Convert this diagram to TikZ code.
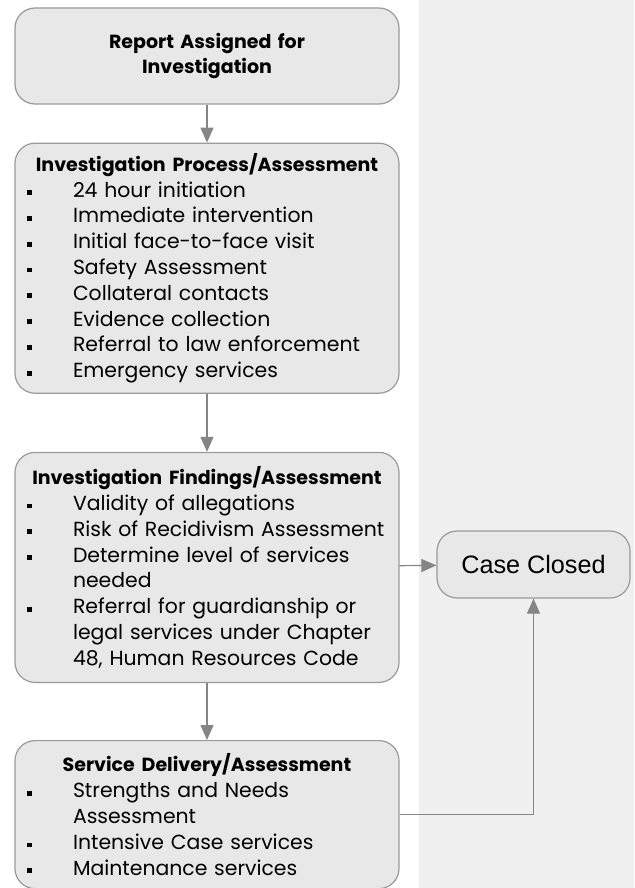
\documentclass[tikz,border=0pt]{standalone}
\usepackage{fontspec}
\setmainfont{Poppins}
\newfontfamily\casefont{Liberation Sans}
\usetikzlibrary{arrows.meta, positioning}
\definecolor{boxfill}{HTML}{E8E8E8}
\definecolor{panelgray}{HTML}{F0F0F0}
\definecolor{edgegray}{HTML}{9A9A9A}
\definecolor{linegray}{HTML}{858585}
\tikzset{
  stepbox/.style={rectangle, draw=edgegray, fill=boxfill, rounded corners=10pt, line width=0.6pt, text width=180pt, inner xsep=6pt, inner ysep=3pt, align=left, font=\fontsize{10.2}{12.9}\selectfont},
  endbox/.style={rectangle, draw=edgegray, fill=boxfill, rounded corners=10pt, line width=0.6pt, minimum width=96.5pt, minimum height=33.5pt, font=\casefont\fontsize{12.6}{14}\selectfont},
  arrow/.style={-{Triangle[length=7.5pt,width=6.5pt]}, draw=linegray, line width=0.6pt},
}
\newcommand{\bul}{\makebox[23pt][l]{\raisebox{1pt}{\rule{2.4pt}{2.4pt}}}}
\newcommand{\itm}[1]{\noindent\hangindent=23pt\hangafter=1 \bul #1\par}
\newcommand{\ttl}[1]{\noindent\makebox[\linewidth][c]{\bfseries\fontsize{9.5}{12.9}\selectfont #1}\par}

\begin{document}
\begin{tikzpicture}[x=0.5pt, y=-0.5pt]
    \useasboundingbox (0,0) rectangle (634,888);
    \fill[panelgray] (419,0) rectangle (634,888);

    \node[stepbox, minimum height=48pt, align=center, font=\bfseries\fontsize{9.5}{12.9}\selectfont] (report) at (207,56) {Report Assigned for\\Investigation};
    \node[stepbox, minimum height=125pt, below=19pt of report] (process) {%
      \ttl{Investigation Process/Assessment}
      \itm{24 hour initiation}
      \itm{Immediate intervention}
      \itm{Initial face-to-face visit}
      \itm{Safety Assessment}
      \itm{Collateral contacts}
      \itm{Evidence collection}
      \itm{Referral to law enforcement}
      \itm{Emergency services}};
    \node[stepbox, minimum height=115pt, below=29pt of process] (findings) {%
      \ttl{Investigation Findings/Assessment}
      \itm{Validity of allegations}
      \itm{Risk of Recidivism Assessment}
      \itm{Determine level of services\newline needed}
      \itm{Referral for guardianship or\newline legal services under Chapter\newline 48, Human Resources Code}};
    \node[stepbox, minimum height=74pt, below=28.5pt of findings] (delivery) {%
      \ttl{Service Delivery/Assessment}
      \itm{Strengths and Needs\newline Assessment}
      \itm{Intensive Case services}
      \itm{Maintenance services}};
    \node[endbox] (closed) at (533.5,564.5) {Case Closed};

    \draw[arrow] (report) -- (process);
    \draw[arrow] (process) -- (findings);
    \draw[arrow] (findings) -- (delivery);
    \draw[arrow] (findings) -- (closed);
    \draw[arrow] (delivery.east) -| (closed.south);
\end{tikzpicture}
\end{document}
